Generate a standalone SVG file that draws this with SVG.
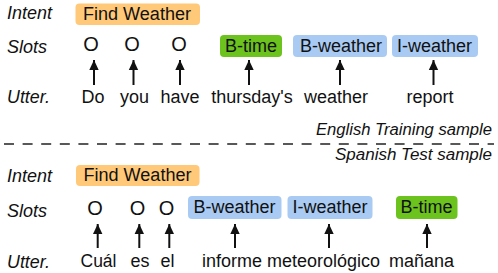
<svg xmlns="http://www.w3.org/2000/svg" width="498" height="273" viewBox="0 0 498 273">
<defs>
<style>
text{font-family:"Liberation Sans",Arial,Helvetica,sans-serif;font-size:18px;fill:#111;}
.lab{font-style:italic;}
.m{text-anchor:middle;}
.o{font-size:20px;text-anchor:middle;}
.note{font-style:italic;font-size:16px;text-anchor:end;}
.int{fill:#FFC979;}
.bw{fill:#A9CBF3;}
.bt{fill:#6CC31E;}
.arr{stroke:#111;stroke-width:2;fill:none;marker-end:url(#ah);}
</style>
<marker id="ah" markerUnits="userSpaceOnUse" markerWidth="11" markerHeight="11" viewBox="0 0 11 11" refX="10" refY="5.5" orient="auto">
<path d="M0,0.8 L10,5.5 L0,10.2 z" fill="#111"/>
</marker>
</defs>
<rect width="498" height="273" fill="#fff"/>

<g id="labels-top">
<text class="lab" x="7" y="19" textLength="45" lengthAdjust="spacingAndGlyphs">Intent</text>
<text class="lab" x="7" y="53" textLength="40" lengthAdjust="spacingAndGlyphs">Slots</text>
<text class="lab" x="7" y="103" textLength="43" lengthAdjust="spacingAndGlyphs">Utter.</text>
</g>

<g id="intent-top">
<rect class="int" x="75.5" y="3.5" width="124.5" height="21.5" rx="4"/>
<text class="m" x="137" y="19.8" textLength="108" lengthAdjust="spacingAndGlyphs">Find Weather</text>
</g>

<g id="slots-top">
<text class="o" x="91" y="50.5">O</text>
<text class="o" x="132" y="50.5">O</text>
<text class="o" x="179" y="50.5">O</text>
<g id="btime-top"><rect class="bt" x="220" y="35" width="62" height="22" rx="4"/><text class="m" x="251" y="51.8" textLength="52" lengthAdjust="spacingAndGlyphs">B-time</text></g>
<g id="bweather-top"><rect class="bw" x="293" y="35" width="94" height="22" rx="4"/><text class="m" x="341" y="51.8" textLength="82" lengthAdjust="spacingAndGlyphs">B-weather</text></g>
<g id="iweather-top"><rect class="bw" x="392" y="35" width="86" height="22" rx="4"/><text class="m" x="434.5" y="51.8" textLength="75" lengthAdjust="spacingAndGlyphs">I-weather</text></g>
</g>

<g id="words-top">
<text class="m" x="93" y="103" textLength="23" lengthAdjust="spacingAndGlyphs">Do</text>
<text class="m" x="134.5" y="103" textLength="29" lengthAdjust="spacingAndGlyphs">you</text>
<text class="m" x="180" y="103" textLength="39" lengthAdjust="spacingAndGlyphs">have</text>
<text class="m" x="252" y="103" textLength="81.5" lengthAdjust="spacingAndGlyphs">thursday's</text>
<text class="m" x="336" y="103" textLength="64" lengthAdjust="spacingAndGlyphs">weather</text>
<text class="m" x="430" y="103" textLength="47" lengthAdjust="spacingAndGlyphs">report</text>
</g>

<g id="separator">
<line x1="4" y1="144" x2="494" y2="144" stroke="#222" stroke-width="1.5" stroke-dasharray="10 8.6"/>
<text class="note" x="492" y="135" textLength="176" lengthAdjust="spacingAndGlyphs">English Training sample</text>
<text class="note" x="492" y="160" textLength="157" lengthAdjust="spacingAndGlyphs">Spanish Test sample</text>
</g>

<g id="labels-bottom">
<text class="lab" x="7" y="182" textLength="45" lengthAdjust="spacingAndGlyphs">Intent</text>
<text class="lab" x="7" y="216.5" textLength="40" lengthAdjust="spacingAndGlyphs">Slots</text>
<text class="lab" x="7" y="267.5" textLength="43" lengthAdjust="spacingAndGlyphs">Utter.</text>
</g>

<g id="intent-bottom">
<rect class="int" x="76" y="165" width="123.5" height="21" rx="4"/>
<text class="m" x="137.5" y="181.2" textLength="108" lengthAdjust="spacingAndGlyphs">Find Weather</text>
</g>

<g id="slots-bottom">
<text class="o" x="95" y="214.5">O</text>
<text class="o" x="137.5" y="214.5">O</text>
<text class="o" x="166.5" y="214.5">O</text>
<g id="bweather-bottom"><rect class="bw" x="188" y="196" width="93.5" height="23" rx="4"/><text class="m" x="234.5" y="213.3" textLength="82" lengthAdjust="spacingAndGlyphs">B-weather</text></g>
<g id="iweather-bottom"><rect class="bw" x="287.5" y="196" width="85" height="23" rx="4"/><text class="m" x="330" y="213.3" textLength="75" lengthAdjust="spacingAndGlyphs">I-weather</text></g>
<g id="btime-bottom"><rect class="bt" x="396" y="196" width="61.5" height="23" rx="4"/><text class="m" x="426.5" y="213.3" textLength="52" lengthAdjust="spacingAndGlyphs">B-time</text></g>
</g>

<g id="words-bottom">
<text class="m" x="98.5" y="266.5" textLength="36" lengthAdjust="spacingAndGlyphs">Cuál</text>
<text class="m" x="140" y="266.5" textLength="19" lengthAdjust="spacingAndGlyphs">es</text>
<text class="m" x="167.5" y="266.5" textLength="14" lengthAdjust="spacingAndGlyphs">el</text>
<text class="m" x="232" y="266.5" textLength="60" lengthAdjust="spacingAndGlyphs">informe</text>
<text class="m" x="323.5" y="266.5" textLength="113" lengthAdjust="spacingAndGlyphs">meteorológico</text>
<text class="m" x="421.5" y="266.5" textLength="65" lengthAdjust="spacingAndGlyphs">mañana</text>
</g>

<g id="connectors">
<line class="arr" x1="94" y1="85" x2="94" y2="60"/>
<line class="arr" x1="133.5" y1="85" x2="133.5" y2="60"/>
<line class="arr" x1="180" y1="85" x2="180" y2="60"/>
<line class="arr" x1="249" y1="85" x2="249" y2="60"/>
<line class="arr" x1="340" y1="85" x2="340" y2="60"/>
<line class="arr" x1="433.5" y1="85" x2="433.5" y2="60"/>
<line class="arr" x1="97.7" y1="248" x2="97.7" y2="224"/>
<line class="arr" x1="139.3" y1="248" x2="139.3" y2="224"/>
<line class="arr" x1="169.3" y1="248" x2="169.3" y2="224"/>
<line class="arr" x1="235" y1="248" x2="235" y2="224"/>
<line class="arr" x1="329" y1="248" x2="329" y2="224"/>
<line class="arr" x1="427" y1="248" x2="427" y2="224"/>
</g>
</svg>
